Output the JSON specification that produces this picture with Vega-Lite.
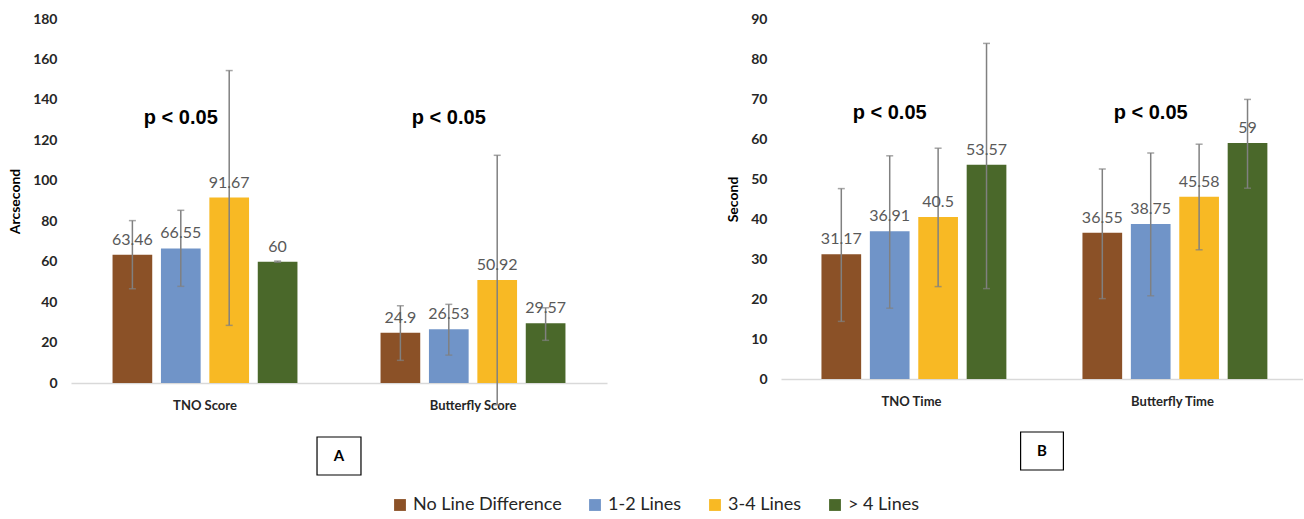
{
  "$schema": "https://vega.github.io/schema/vega-lite/v6.json",
  "background": "white",
  "padding": {"top": 12, "left": 8, "right": 0, "bottom": 2},
  "datasets": {
    "scores": [
      {"cat": "TNO Score", "grp": "No Line Difference", "value": 63.46, "label": "63.46", "low": 46.6, "high": 80.3},
      {"cat": "TNO Score", "grp": "1-2 Lines", "value": 66.55, "label": "66.55", "low": 47.8, "high": 85.4},
      {"cat": "TNO Score", "grp": "3-4 Lines", "value": 91.67, "label": "91.67", "low": 28.5, "high": 154.5},
      {"cat": "TNO Score", "grp": "> 4 Lines", "value": 60, "label": "60", "low": 59.7, "high": 60.3},
      {"cat": "Butterfly Score", "grp": "No Line Difference", "value": 24.9, "label": "24.9", "low": 11.2, "high": 38.2},
      {"cat": "Butterfly Score", "grp": "1-2 Lines", "value": 26.53, "label": "26.53", "low": 13.8, "high": 38.9},
      {"cat": "Butterfly Score", "grp": "3-4 Lines", "value": 50.92, "label": "50.92", "low": -10.8, "high": 112.6},
      {"cat": "Butterfly Score", "grp": "> 4 Lines", "value": 29.57, "label": "29.57", "low": 21.1, "high": 37.2}
    ],
    "times": [
      {"cat": "TNO Time", "grp": "No Line Difference", "value": 31.17, "label": "31.17", "low": 14.4, "high": 47.6},
      {"cat": "TNO Time", "grp": "1-2 Lines", "value": 36.91, "label": "36.91", "low": 17.7, "high": 55.8},
      {"cat": "TNO Time", "grp": "3-4 Lines", "value": 40.5, "label": "40.5", "low": 23.1, "high": 57.7},
      {"cat": "TNO Time", "grp": "> 4 Lines", "value": 53.57, "label": "53.57", "low": 22.6, "high": 83.9},
      {"cat": "Butterfly Time", "grp": "No Line Difference", "value": 36.55, "label": "36.55", "low": 20.1, "high": 52.5},
      {"cat": "Butterfly Time", "grp": "1-2 Lines", "value": 38.75, "label": "38.75", "low": 20.8, "high": 56.5},
      {"cat": "Butterfly Time", "grp": "3-4 Lines", "value": 45.58, "label": "45.58", "low": 32.3, "high": 58.7},
      {"cat": "Butterfly Time", "grp": "> 4 Lines", "value": 59, "label": "59", "low": 47.7, "high": 69.9}
    ],
    "pA": [{"cat": "TNO Score", "txt": "p < 0.05"}, {"cat": "Butterfly Score", "txt": "p < 0.05"}],
    "pB": [{"cat": "TNO Time", "txt": "p < 0.05"}, {"cat": "Butterfly Time", "txt": "p < 0.05"}],
    "boxA": [{"label": "A"}],
    "boxB": [{"label": "B"}]
  },
  "hconcat": [
    {
      "width": 536,
      "height": 364,
      "resolve": {"scale": {"x": "independent"}},
      "layer": [
        {
          "data": {"name": "scores"},
          "encoding": {
            "x": {"field": "cat", "type": "nominal", "sort": ["TNO Score", "Butterfly Score"], "scale": {"paddingInner": 0.31, "paddingOuter": 0.155}, "axis": {"title": null}},
            "xOffset": {"field": "grp", "type": "nominal", "sort": ["No Line Difference", "1-2 Lines", "3-4 Lines", "> 4 Lines"], "scale": {"paddingInner": 0.18, "paddingOuter": 0}}
          },
          "layer": [
            {
              "mark": {"type": "bar"},
              "encoding": {
                "y": {"field": "value", "type": "quantitative", "title": "Arcsecond", "scale": {"domain": [0, 180], "nice": false}, "axis": {"values": [0, 20, 40, 60, 80, 100, 120, 140, 160, 180], "labelOverlap": false}},
                "color": {"field": "grp", "type": "nominal", "sort": ["No Line Difference", "1-2 Lines", "3-4 Lines", "> 4 Lines"], "scale": {"domain": ["No Line Difference", "1-2 Lines", "3-4 Lines", "> 4 Lines"], "range": ["#8b5127", "#7094c8", "#f8b924", "#4a682a"]}, "legend": {"title": null}}
              }
            },
            {
              "mark": {"type": "rule", "color": "#808080", "strokeWidth": 1.5},
              "encoding": {"y": {"field": "low", "type": "quantitative", "title": "Arcsecond", "axis": {"values": [0, 20, 40, 60, 80, 100, 120, 140, 160, 180], "labelOverlap": false}}, "y2": {"field": "high"}}
            },
            {
              "mark": {"type": "tick", "color": "#808080", "size": 7, "thickness": 1.5},
              "encoding": {"y": {"field": "low", "type": "quantitative", "title": "Arcsecond", "axis": {"values": [0, 20, 40, 60, 80, 100, 120, 140, 160, 180], "labelOverlap": false}}}
            },
            {
              "mark": {"type": "tick", "color": "#808080", "size": 7, "thickness": 1.5},
              "encoding": {"y": {"field": "high", "type": "quantitative", "title": "Arcsecond", "axis": {"values": [0, 20, 40, 60, 80, 100, 120, 140, 160, 180], "labelOverlap": false}}}
            },
            {
              "mark": {"type": "text", "baseline": "bottom", "dy": -7, "color": "#595959", "fontSize": 16},
              "encoding": {"y": {"field": "value", "type": "quantitative", "title": "Arcsecond", "axis": {"values": [0, 20, 40, 60, 80, 100, 120, 140, 160, 180], "labelOverlap": false}}, "text": {"field": "label", "type": "nominal"}}
            },
            {
              "data": {"name": "pA"},
              "mark": {"type": "text", "fontSize": 20, "fontWeight": "bold", "color": "#000000", "font": "Liberation Sans"},
              "encoding": {"y": {"datum": 131, "type": "quantitative", "title": "Arcsecond", "axis": {"values": [0, 20, 40, 60, 80, 100, 120, 140, 160, 180], "labelOverlap": false}}, "xOffset": {"datum": "1-2 Lines"}, "text": {"field": "txt", "type": "nominal"}}
            }
          ]
        },
        {
          "data": {"name": "boxA"},
          "layer": [
            {
              "mark": {"type": "rect", "fill": null, "stroke": "#000000", "strokeWidth": 1.2},
              "encoding": {"x": {"datum": 0.459, "type": "quantitative", "scale": {"domain": [0, 1]}, "axis": null}, "x2": {"datum": 0.541}, "y": {"datum": -26.7, "type": "quantitative", "title": "Arcsecond", "axis": {"values": [0, 20, 40, 60, 80, 100, 120, 140, 160, 180], "labelOverlap": false}}, "y2": {"datum": -45.5}}
            },
            {
              "mark": {"type": "text", "fontSize": 15, "fontWeight": "bold", "color": "#000000"},
              "encoding": {"x": {"datum": 0.5, "type": "quantitative", "scale": {"domain": [0, 1]}, "axis": null}, "y": {"datum": -36.1, "type": "quantitative", "title": "Arcsecond", "axis": {"values": [0, 20, 40, 60, 80, 100, 120, 140, 160, 180], "labelOverlap": false}}, "text": {"field": "label", "type": "nominal"}}
            }
          ]
        }
      ]
    },
    {
      "width": 522,
      "height": 360,
      "resolve": {"scale": {"x": "independent"}},
      "layer": [
        {
          "data": {"name": "times"},
          "encoding": {
            "x": {"field": "cat", "type": "nominal", "sort": ["TNO Time", "Butterfly Time"], "scale": {"paddingInner": 0.31, "paddingOuter": 0.155}, "axis": {"title": null}},
            "xOffset": {"field": "grp", "type": "nominal", "sort": ["No Line Difference", "1-2 Lines", "3-4 Lines", "> 4 Lines"], "scale": {"paddingInner": 0.18, "paddingOuter": 0}}
          },
          "layer": [
            {
              "mark": {"type": "bar"},
              "encoding": {
                "y": {"field": "value", "type": "quantitative", "title": "Second", "scale": {"domain": [0, 90], "nice": false}, "axis": {"values": [0, 10, 20, 30, 40, 50, 60, 70, 80, 90], "labelOverlap": false}},
                "color": {"field": "grp", "type": "nominal", "sort": ["No Line Difference", "1-2 Lines", "3-4 Lines", "> 4 Lines"], "scale": {"domain": ["No Line Difference", "1-2 Lines", "3-4 Lines", "> 4 Lines"], "range": ["#8b5127", "#7094c8", "#f8b924", "#4a682a"]}, "legend": {"title": null}}
              }
            },
            {
              "mark": {"type": "rule", "color": "#808080", "strokeWidth": 1.5},
              "encoding": {"y": {"field": "low", "type": "quantitative", "title": "Second", "axis": {"values": [0, 10, 20, 30, 40, 50, 60, 70, 80, 90], "labelOverlap": false}}, "y2": {"field": "high"}}
            },
            {
              "mark": {"type": "tick", "color": "#808080", "size": 7, "thickness": 1.5},
              "encoding": {"y": {"field": "low", "type": "quantitative", "title": "Second", "axis": {"values": [0, 10, 20, 30, 40, 50, 60, 70, 80, 90], "labelOverlap": false}}}
            },
            {
              "mark": {"type": "tick", "color": "#808080", "size": 7, "thickness": 1.5},
              "encoding": {"y": {"field": "high", "type": "quantitative", "title": "Second", "axis": {"values": [0, 10, 20, 30, 40, 50, 60, 70, 80, 90], "labelOverlap": false}}}
            },
            {
              "mark": {"type": "text", "baseline": "bottom", "dy": -7, "color": "#595959", "fontSize": 16},
              "encoding": {"y": {"field": "value", "type": "quantitative", "title": "Second", "axis": {"values": [0, 10, 20, 30, 40, 50, 60, 70, 80, 90], "labelOverlap": false}}, "text": {"field": "label", "type": "nominal"}}
            },
            {
              "data": {"name": "pB"},
              "mark": {"type": "text", "fontSize": 20, "fontWeight": "bold", "color": "#000000", "font": "Liberation Sans"},
              "encoding": {"y": {"datum": 66.5, "type": "quantitative", "title": "Second", "axis": {"values": [0, 10, 20, 30, 40, 50, 60, 70, 80, 90], "labelOverlap": false}}, "xOffset": {"datum": "1-2 Lines"}, "text": {"field": "txt", "type": "nominal"}}
            }
          ]
        },
        {
          "data": {"name": "boxB"},
          "layer": [
            {
              "mark": {"type": "rect", "fill": null, "stroke": "#000000", "strokeWidth": 1.2},
              "encoding": {"x": {"datum": 0.459, "type": "quantitative", "scale": {"domain": [0, 1]}, "axis": null}, "x2": {"datum": 0.541}, "y": {"datum": -13.25, "type": "quantitative", "title": "Second", "axis": {"values": [0, 10, 20, 30, 40, 50, 60, 70, 80, 90], "labelOverlap": false}}, "y2": {"datum": -22.75}}
            },
            {
              "mark": {"type": "text", "fontSize": 15, "fontWeight": "bold", "color": "#000000"},
              "encoding": {"x": {"datum": 0.5, "type": "quantitative", "scale": {"domain": [0, 1]}, "axis": null}, "y": {"datum": -18, "type": "quantitative", "title": "Second", "axis": {"values": [0, 10, 20, 30, 40, 50, 60, 70, 80, 90], "labelOverlap": false}}, "text": {"field": "label", "type": "nominal"}}
            }
          ]
        }
      ]
    }
  ],
  "spacing": 119,
  "config": {
    "font": "Lato",
    "view": {"stroke": null},
    "axis": {"grid": false, "ticks": false, "labelFont": "Lato", "titleFont": "Lato"},
    "axisY": {"domain": false, "labelFontSize": 14, "labelFontWeight": "bold", "labelColor": "#262626", "labelPadding": 14, "titleFontSize": 14, "titleFontWeight": "bold", "titleColor": "#000000", "titlePadding": 10},
    "axisX": {"domainColor": "#d9d9d9", "domainWidth": 1.5, "labelAngle": 0, "labelFontSize": 13, "labelFontWeight": "bold", "labelColor": "#262626", "labelPadding": 16},
    "legend": {"orient": "bottom", "direction": "horizontal", "labelFont": "Lato", "labelFontSize": 18, "labelColor": "#262626", "symbolType": "square", "symbolSize": 140, "symbolStrokeWidth": 0, "columnPadding": 24, "offset": 20, "labelLimit": 300, "layout": {"bottom": {"anchor": "middle"}}},
    "text": {"font": "Lato"}
  }
}
